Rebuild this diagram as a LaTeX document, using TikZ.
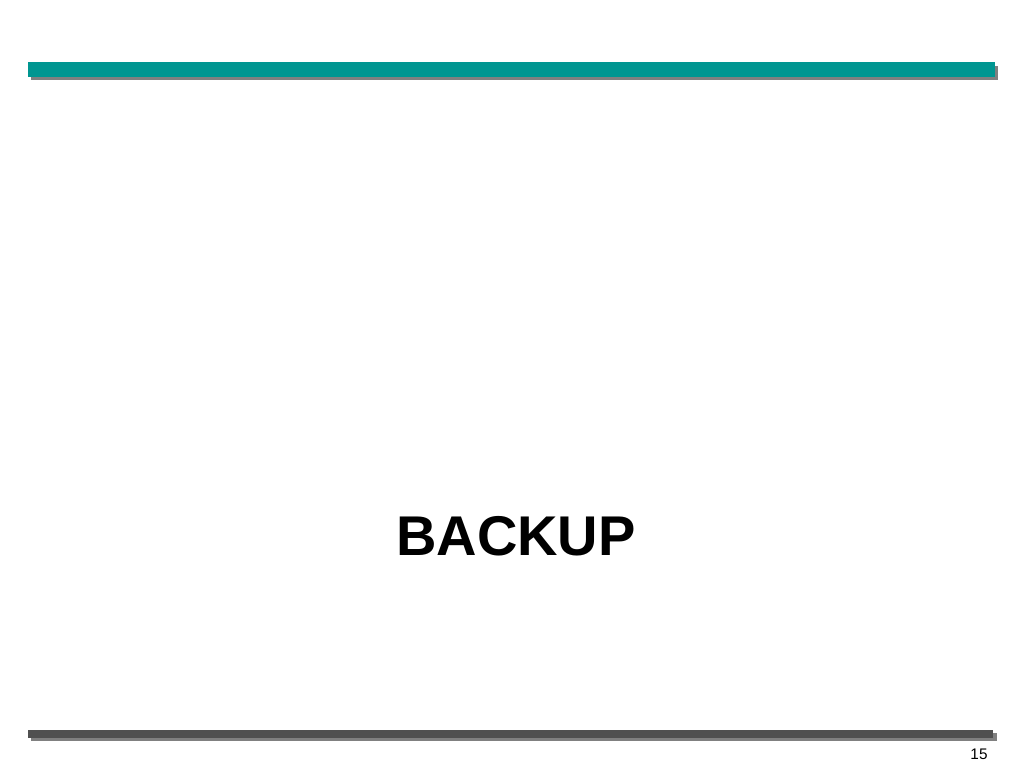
\documentclass[tikz,border=0pt]{standalone}
\usepackage{fontspec}
\setmainfont{Liberation Sans}
\usetikzlibrary{calc}
\definecolor{BarClr}{RGB}{0,150,145}
\definecolor{ShadowClr}{RGB}{128,128,128}
\definecolor{FootClr}{RGB}{80,80,80}

\begin{document}
\begin{tikzpicture}[x=0.75pt,y=-0.75pt]
\useasboundingbox (0,0) rectangle (1024,768);

% Top bar with its shadow.
\fill[ShadowClr] (31,66) rectangle (998,80);
\fill[BarClr] (28,62) rectangle (995,77);

% Bottom bar with its shadow.
\fill[ShadowClr] (31,733) rectangle (997,741);
\fill[FootClr] (28,730) rectangle (993,738);

\node[font=\fontsize{42}{48}\selectfont\bfseries,inner sep=0pt,anchor=base] (title) at (516,555) {BACKUP};
\node[font=\fontsize{11.5}{13}\selectfont,inner sep=0pt,anchor=base] (pagenum) at (979,759) {15};

\end{tikzpicture}
\end{document}
